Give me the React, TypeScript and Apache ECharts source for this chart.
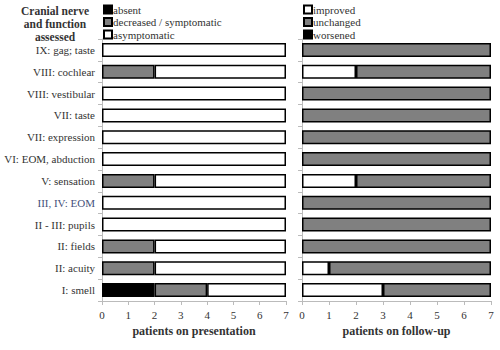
import React, { useEffect, useRef } from "react";
import * as echarts from "echarts";

const categories = [
  "IX: gag; taste",
  "VIII: cochlear",
  "VIII: vestibular",
  "VII: taste",
  "VII: expression",
  "VI: EOM, abduction",
  "V: sensation",
  "III, IV: EOM",
  "II - III: pupils",
  "II: fields",
  "II: acuity",
  "I: smell",
];

const absent = [0, 0, 0, 0, 0, 0, 0, 0, 0, 0, 0, 2];
const decreased = [0, 2, 0, 0, 0, 0, 2, 0, 0, 2, 2, 2];
const asymptomatic = [7, 5, 7, 7, 7, 7, 5, 7, 7, 5, 5, 3];

const improved = [0, 2, 0, 0, 0, 0, 2, 0, 0, 0, 1, 3];
const unchanged = [7, 5, 7, 7, 7, 7, 5, 7, 7, 7, 6, 4];
const worsened = [0, 0, 0, 0, 0, 0, 0, 0, 0, 0, 0, 0];

const xTicks = [0, 1, 2, 3, 4, 5, 6, 7];

const headerLines = ["Cranial nerve", "and function", "assessed"];

const FONT = "'Liberation Serif', 'DejaVu Serif', serif";
const TXT = "#333";

const nz = (a: number[]) => a.map((v) => (v === 0 ? null : v));

export default function App() {
  const ref = useRef<HTMLDivElement>(null);
  useEffect(() => {
    const chart = echarts.init(ref.current!, null, { renderer: "svg" });
    const barStyle = (color: string) => ({
      color,
      borderColor: "#000",
      borderWidth: 1.5,
    });
    const xAxisCommon = {
      type: "value" as const,
      min: xTicks[0],
      max: xTicks[xTicks.length - 1],
      interval: 1,
      nameLocation: "middle" as const,
      nameGap: 24,
      nameTextStyle: { fontFamily: FONT, fontSize: 12, fontWeight: "bold", color: TXT },
      axisLine: { show: true, lineStyle: { color: "#bbb" } },
      axisTick: { show: true, length: 4, lineStyle: { color: "#bbb" } },
      axisLabel: { fontFamily: FONT, fontSize: 11, color: TXT, margin: 8 },
      splitLine: { show: false },
    };
    const yAxisCommon = {
      type: "category" as const,
      data: categories,
      inverse: true,
      axisLine: { show: true, lineStyle: { color: "#bbb" } },
      axisTick: { show: true, length: 4, lineStyle: { color: "#bbb" } },
    };
    const legendCommon = {
      orient: "vertical" as const,
      top: 4,
      icon: "rect",
      itemWidth: 8,
      itemHeight: 8,
      itemGap: 1.5,
      padding: 0,
      textStyle: { fontFamily: FONT, fontSize: 11, color: TXT, padding: [0, 0, 0, -4] },
    };
    chart.setOption({
      animation: false,
      backgroundColor: "#fff",
      textStyle: { fontFamily: FONT },
      grid: [
        { left: 102, width: 184, top: 39, height: 262 },
        { left: 302, width: 189, top: 39, height: 262 },
      ],
      legend: [
        { ...legendCommon, data: ["absent", "decreased / symptomatic", "asymptomatic"], left: 103 },
        { ...legendCommon, data: ["improved", "unchanged", "worsened"], left: 303 },
      ],
      xAxis: [
        { ...xAxisCommon, gridIndex: 0, name: "patients on presentation" },
        { ...xAxisCommon, gridIndex: 1, name: "patients on follow-up" },
      ],
      yAxis: [
        {
          ...yAxisCommon,
          gridIndex: 0,
          axisLabel: {
            fontFamily: FONT,
            fontSize: 11,
            margin: 7,
            color: (v: string) => (v === "III, IV: EOM" ? "#45507a" : TXT),
          },
        },
        { ...yAxisCommon, gridIndex: 1, axisLabel: { show: false } },
      ],
      series: [
        { name: "absent", type: "bar", stack: "p", xAxisIndex: 0, yAxisIndex: 0, barWidth: 14, data: nz(absent), itemStyle: barStyle("#000") },
        { name: "decreased / symptomatic", type: "bar", stack: "p", xAxisIndex: 0, yAxisIndex: 0, barWidth: 14, data: nz(decreased), itemStyle: barStyle("#808080") },
        { name: "asymptomatic", type: "bar", stack: "p", xAxisIndex: 0, yAxisIndex: 0, barWidth: 14, data: nz(asymptomatic), itemStyle: barStyle("#fff") },
        { name: "improved", type: "bar", stack: "f", xAxisIndex: 1, yAxisIndex: 1, barWidth: 14, data: nz(improved), itemStyle: barStyle("#fff") },
        { name: "unchanged", type: "bar", stack: "f", xAxisIndex: 1, yAxisIndex: 1, barWidth: 14, data: nz(unchanged), itemStyle: barStyle("#808080") },
        { name: "worsened", type: "bar", stack: "f", xAxisIndex: 1, yAxisIndex: 1, barWidth: 14, data: nz(worsened), itemStyle: barStyle("#000") },
      ],
      graphic: headerLines.map((t, i) => ({
        type: "text",
        x: 55,
        y: 10.5 + i * 13.3,
        style: {
          text: t,
          fontFamily: FONT,
          fontSize: 11.5,
          fontWeight: "bold",
          fill: TXT,
          align: "center",
          verticalAlign: "middle",
        },
      })),
    });
    return () => chart.dispose();
  }, []);
  return (
    <div
      ref={ref}
      style={{ position: "absolute", left: 0, top: 0, width: 500, height: 350 }}
    />
  );
}
